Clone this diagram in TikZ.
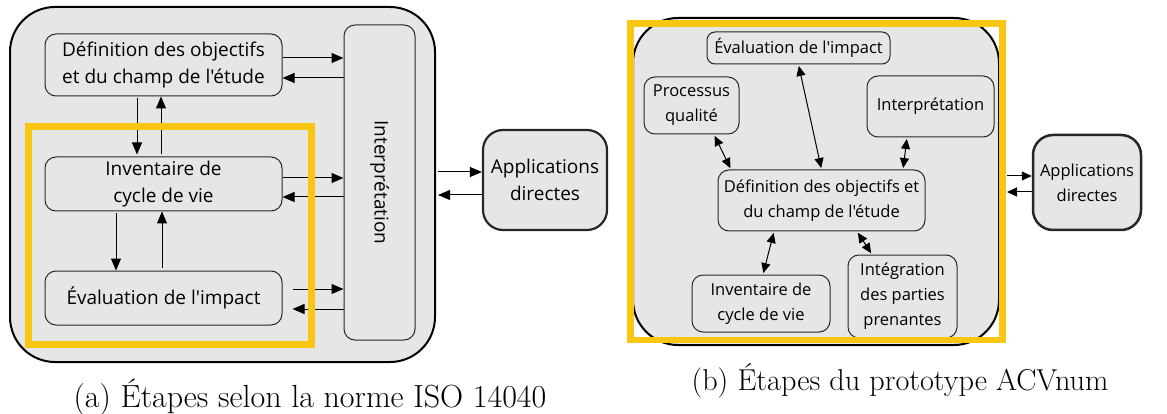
\documentclass[tikz,border=0pt]{standalone}
\usepackage{fontspec}
\setsansfont{Open Sans}[Ligatures=TeXOff]
\usepackage{tikz}
\usetikzlibrary{positioning,arrows.meta}
\definecolor{cadre}{RGB}{250,198,20}
\definecolor{fond}{RGB}{230,230,230}

\begin{document}
\begin{tikzpicture}[x=1pt,y=-1pt,
    grand/.style={draw=black, fill=fond, line width=2pt, rounded corners=45pt, inner sep=0pt},
    etape/.style={draw=black!85, fill=fond, line width=1pt, rounded corners=11pt, inner sep=0pt, align=center, font=\sffamily\fontsize{19}{27}\selectfont},
    etapeb/.style={etape, font=\sffamily\fontsize{16.5}{25}\selectfont},
    appli/.style={draw=black!85, fill=fond, line width=2.2pt, rounded corners=20pt, inner sep=0pt, align=center},
    fl/.style={-{Triangle[length=12pt,width=10pt]}, line width=1pt},
    dfl/.style={{Triangle[length=10pt,width=9pt]}-{Triangle[length=10pt,width=9pt]}, line width=1pt, shorten <=1.5pt, shorten >=1.5pt},
    legende/.style={font=\fontsize{32}{36}\selectfont}]
    \useasboundingbox (0,0) rectangle (1167,414);

    % Panel a
    \node[grand, minimum width=425pt, minimum height=355pt] (outa) at (222.5,184.5) {};
    \node[etape, minimum width=237pt, minimum height=62pt] (defa) at (163.5,65) {Définition des objectifs\\et du champ de l'étude};
    \node[etape, minimum width=237pt, minimum height=54pt] (inva) at (163.5,184) {Inventaire de\\cycle de vie};
    \node[etape, minimum width=237pt, minimum height=54pt] (evala) at (163.5,298) {Évaluation de l'impact};
    \node[etape, minimum width=71pt, minimum height=315pt] (interpa) at (379.5,182.5) {\rotatebox{-90}{Interprétation}};
    \node[appli, minimum width=124pt, minimum height=100pt, font=\sffamily\fontsize{19}{27}\selectfont] (appa) at (545,180) {Applications\\directes};

    \draw[fl] ([yshift=7pt]defa.east) -- ([yshift=7pt]defa.east -| interpa.west);
    \draw[fl] ([yshift=-13pt]defa.east -| interpa.west) -- ([yshift=-13pt]defa.east);
    \draw[fl] ([yshift=6pt]inva.east) -- ([yshift=6pt]inva.east -| interpa.west);
    \draw[fl] ([yshift=-13pt]inva.east -| interpa.west) -- ([yshift=-13pt]inva.east);
    \draw[fl, shorten <=10pt] ([yshift=9pt]evala.east) -- ([yshift=9pt]evala.east -| interpa.west);
    \draw[fl, shorten >=10pt] ([yshift=-11pt]evala.east -| interpa.west) -- ([yshift=-11pt]evala.east);
    \draw[fl, shorten <=2pt, shorten >=2pt] ([xshift=-26.5pt]defa.south) -- ([xshift=-26.5pt]defa.south |- inva.north);
    \draw[fl, shorten <=2pt] ([xshift=-2.5pt]defa.south |- inva.north) -- ([xshift=-2.5pt]defa.south);
    \draw[fl, shorten <=2pt] ([xshift=-47.5pt]inva.south) -- ([xshift=-47.5pt]inva.south |- evala.north);
    \draw[fl, shorten <=3pt] ([xshift=-1.5pt]inva.south |- evala.north) -- ([xshift=-1.5pt]inva.south);
    \draw[fl, shorten <=2pt] ([yshift=8pt]appa.west -| outa.east) -- ([yshift=8pt]appa.west);
    \draw[fl, shorten >=2pt] ([yshift=-15pt]appa.west) -- ([yshift=-15pt]appa.west -| outa.east);

    \draw[cadre, line width=6.5pt] (28.5,126.5) rectangle (311.5,344.5);
    \node[legende] (capa) at (310,397) {(a) Étapes selon la norme ISO 14040};

    % Panel b
    \node[grand, minimum width=366pt, minimum height=327pt] (outb) at (816,181.5) {};
    \node[etapeb, minimum width=183pt, minimum height=32pt, rounded corners=8pt] (evalb) at (798.5,48) {Évaluation de l'impact};
    \node[etapeb, minimum width=95pt, minimum height=57pt] (procb) at (691.5,105.5) {Processus\\qualité};
    \node[etapeb, minimum width=127pt, minimum height=61pt] (interpb) at (930.5,106.5) {Interprétation};
    \node[etapeb, minimum width=207pt, minimum height=61pt] (defb) at (821.5,200.5) {Définition des objectifs et\\du champ de l'étude};
    \node[etapeb, minimum width=138pt, minimum height=57pt] (invb) at (761,303.5) {Inventaire de\\cycle de vie};
    \node[etapeb, minimum width=109pt, minimum height=83pt] (integb) at (902.5,296.5) {Intégration\\des parties\\prenantes};
    \node[appli, minimum width=108pt, minimum height=95pt, line width=2.5pt, font=\sffamily\fontsize{16.5}{25}\selectfont] (appb) at (1087,182.5) {Applications\\directes};

    \draw[dfl] (evalb.south) -- (defb.north);
    \draw[dfl] ([xshift=22.5pt]procb.south) -- ([xshift=-90.5pt]defb.north);
    \draw[dfl] ([xshift=-23.5pt]interpb.south) -- ([xshift=81.5pt]defb.north);
    \draw[dfl] ([xshift=-47.5pt]defb.south) -- ([xshift=2pt]invb.north);
    \draw[dfl] ([xshift=35.5pt]defb.south) -- ([xshift=-30.5pt]integb.north);
    \draw[fl, -{Triangle[length=10pt,width=9pt]}, shorten <=7pt] ([yshift=6.5pt]appb.west -| outb.east) -- ([yshift=6.5pt]appb.west);
    \draw[fl, -{Triangle[length=10pt,width=9pt]}, shorten >=7pt] ([yshift=-9.5pt]appb.west) -- ([yshift=-9.5pt]appb.west -| outb.east);

    \draw[cadre, line width=6.5pt] (630.5,23.5) rectangle (1002.5,340);
    \node[legende, font=\fontsize{30.2}{34}\selectfont] (capb) at (900,381) {(b) Étapes du prototype ACVnum};
\end{tikzpicture}
\end{document}
